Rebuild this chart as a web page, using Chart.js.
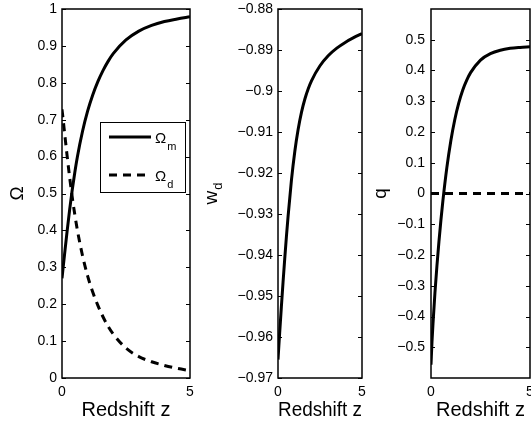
<!DOCTYPE html>
<html lang="en">
<head>
<meta charset="UTF-8">
<title>Omega, w_d and q versus redshift</title>
<script src="https://cdn.jsdelivr.net/npm/chart.js"></script>
<style>
  body { margin: 0; background: #fff; }
  #wrap { position: relative; width: 531px; height: 425px; overflow: hidden; }
  canvas { position: absolute; top: 0; }
</style>
</head>
<body>
<div id="wrap">
  <canvas id="omegaChart" width="200" height="425" style="left:0"></canvas>
  <canvas id="wChart" width="172" height="425" style="left:200px"></canvas>
  <canvas id="qChart" width="159" height="425" style="left:372px"></canvas>
</div>
<script>
// values
const z      = [0, 0.05, 0.1, 0.2, 0.3, 0.4, 0.5, 0.6, 0.8, 1.0, 1.2, 1.4, 1.6, 1.8, 2.0, 2.5, 3.0, 3.5, 4.0, 4.5, 5.0];
const omegaM = [0.270, 0.303, 0.335, 0.398, 0.457, 0.510, 0.557, 0.599, 0.668, 0.723, 0.767, 0.803, 0.833, 0.858, 0.879, 0.916, 0.940, 0.9555, 0.966, 0.973, 0.979];
const omegaD = [0.728, 0.697, 0.665, 0.602, 0.543, 0.490, 0.443, 0.401, 0.332, 0.277, 0.233, 0.197, 0.166, 0.140, 0.119, 0.081, 0.058, 0.044, 0.034, 0.026, 0.020];
const wD     = [-0.9655, -0.9622, -0.95895, -0.95265, -0.94665, -0.94095, -0.93555, -0.93055, -0.92175, -0.91475, -0.90935, -0.90515, -0.90195, -0.89945, -0.89745, -0.89385, -0.89135, -0.88955, -0.88815, -0.8870, -0.8860];
const q      = [-0.557, -0.482, -0.424, -0.322, -0.235, -0.157, -0.087, -0.024, 0.084, 0.171, 0.240, 0.294, 0.336, 0.368, 0.393, 0.434, 0.455, 0.466, 0.472, 0.475, 0.477];
const qZeroZ = [0, 5];
const qZero  = [0, 0];

const zTicks     = [0, 5];
const omegaTicks = [0, 0.1, 0.2, 0.3, 0.4, 0.5, 0.6, 0.7, 0.8, 0.9, 1];
const wTicks     = [-0.97, -0.96, -0.95, -0.94, -0.93, -0.92, -0.91, -0.9, -0.89, -0.88];
const qTicks     = [-0.5, -0.4, -0.3, -0.2, -0.1, 0, 0.1, 0.2, 0.3, 0.4, 0.5];

const FONT = '"Liberation Sans", Arial, Helvetica, sans-serif';
Chart.defaults.font.family = FONT;
Chart.defaults.font.size = 14;
Chart.defaults.color = '#000';

const fmt = v => String(Math.round(v * 100) / 100).replace('-', '\u2212');
const pts = (xs, ys) => xs.map((x, i) => ({ x, y: ys[i] }));

function drawSub(ctx, base, sub, x, y, size, subSize, drop) {
  ctx.fillStyle = '#000';
  ctx.textAlign = 'left';
  ctx.textBaseline = 'alphabetic';
  ctx.font = size + 'px ' + FONT;
  ctx.fillText(base, x, y);
  if (sub) {
    const bw = ctx.measureText(base).width;
    ctx.font = subSize + 'px ' + FONT;
    ctx.fillText(sub, x + bw + 1, y + drop);
  }
}

// box round the plot area, with inward ticks on both sides
const frame = {
  id: 'frame',
  afterDatasetsDraw(chart) {
    const { ctx, chartArea: a, scales } = chart;
    ctx.save();
    ctx.strokeStyle = '#000';
    ctx.lineWidth = 1;
    ctx.beginPath();
    scales.y.ticks.forEach(t => {
      const py = Math.round(scales.y.getPixelForValue(t.value)) + 0.5;
      ctx.moveTo(a.left, py); ctx.lineTo(a.left + 4, py);
      ctx.moveTo(a.right, py); ctx.lineTo(a.right - 4, py);
    });
    ctx.stroke();
    ctx.lineWidth = 1.5;
    ctx.strokeRect(a.left, a.top, a.right - a.left, a.bottom - a.top);
    ctx.restore();
  }
};

// rotated y title, with an optional subscript
const yTitle = {
  id: 'yTitle',
  afterDraw(chart, args, o) {
    const { ctx, chartArea: a } = chart;
    ctx.save();
    ctx.font = o.size + 'px ' + FONT;
    let total = ctx.measureText(o.text).width;
    if (o.sub) {
      ctx.font = o.subSize + 'px ' + FONT;
      total += 1 + ctx.measureText(o.sub).width;
    }
    ctx.translate(o.x, (a.top + a.bottom) / 2);
    ctx.rotate(-Math.PI / 2);
    drawSub(ctx, o.text, o.sub, -total / 2, 0, o.size, o.subSize, o.drop);
    ctx.restore();
  }
};

// MATLAB style legend inside the first panel
const legendBox = {
  id: 'legendBox',
  afterDraw(chart, args, o) {
    const ctx = chart.ctx;
    ctx.save();
    ctx.fillStyle = '#fff';
    ctx.fillRect(o.x, o.y, o.w, o.h);
    ctx.strokeStyle = '#000';
    ctx.lineWidth = 1;
    ctx.strokeRect(o.x + 0.5, o.y + 0.5, o.w, o.h);
    chart.data.datasets.forEach((ds, i) => {
      const ly = o.y + o.rows[i];
      ctx.lineWidth = ds.borderWidth;
      ctx.setLineDash(ds.borderDash || []);
      ctx.beginPath();
      ctx.moveTo(o.x + 9, ly);
      ctx.lineTo(o.x + 51, ly);
      ctx.stroke();
      ctx.setLineDash([]);
      drawSub(ctx, ds.label, ds.sub, o.x + 55, ly + 6, 15, 11, 7);
    });
    ctx.restore();
  }
};

function line(label, sub, xs, ys, dash) {
  return {
    label, sub,
    data: pts(xs, ys),
    borderColor: '#000',
    borderWidth: 3,
    borderDash: dash || [],
    pointRadius: 0,
    fill: false,
    cubicInterpolationMode: 'monotone'
  };
}

function panel(id, datasets, y, extraPlugins) {
  return new Chart(document.getElementById(id), {
    type: 'line',
    data: { datasets },
    plugins: [frame, yTitle].concat(extraPlugins || []),
    options: {
      responsive: false,
      animation: false,
      devicePixelRatio: 1,
      layout: { padding: { left: 0, top: 9, right: y.right, bottom: 0 } },
      plugins: {
        legend: { display: false },
        tooltip: { enabled: false },
        yTitle: y.title,
        legendBox: y.legend
      },
      scales: {
        x: {
          type: 'linear', min: 0, max: 5,
          afterBuildTicks: s => { s.ticks = zTicks.map(v => ({ value: v })); },
          afterFit: s => { s.height = 47; s.paddingLeft = 0; s.paddingRight = 0; },
          grid: { display: false, drawTicks: false },
          border: { display: false },
          ticks: { padding: 6, maxRotation: 0, autoSkip: false, callback: fmt },
          title: { display: true, text: 'Redshift z', font: { size: 20 }, padding: { top: 0, bottom: 3 } }
        },
        y: {
          type: 'linear', min: y.min, max: y.max,
          afterBuildTicks: s => { s.ticks = y.ticks.map(v => ({ value: v })); },
          afterFit: s => { s.width = y.width; s.paddingTop = 0; s.paddingBottom = 0; },
          grid: { display: false, drawTicks: false },
          border: { display: false },
          ticks: { padding: y.pad, autoSkip: false, callback: fmt }
        }
      }
    }
  });
}

panel('omegaChart', [
  line('\u03a9', 'm', z, omegaM),
  line('\u03a9', 'd', z, omegaD, [8, 6])
], {
  min: 0, max: 1, ticks: omegaTicks, width: 62, right: 10, pad: 5,
  title: { text: '\u03a9', sub: '', x: 23, size: 19, subSize: 13, drop: 5 },
  legend: { x: 100, y: 122, w: 85, h: 70, rows: [15, 53] }
}, [legendBox]);

panel('wChart', [
  line('w', 'd', z, wD)
], {
  min: -0.97, max: -0.88, ticks: wTicks, width: 78, right: 10, pad: 5,
  title: { text: 'w', sub: 'd', x: 17, size: 19, subSize: 13, drop: 5 }
});

panel('qChart', [
  line('q', '', z, q),
  line('0', '', qZeroZ, qZero, [8, 6])
], {
  min: -0.6, max: 0.6, ticks: qTicks, width: 59, right: 1, pad: 6,
  title: { text: 'q', sub: '', x: 14, size: 19, subSize: 13, drop: 5 }
});
</script>
</body>
</html>
